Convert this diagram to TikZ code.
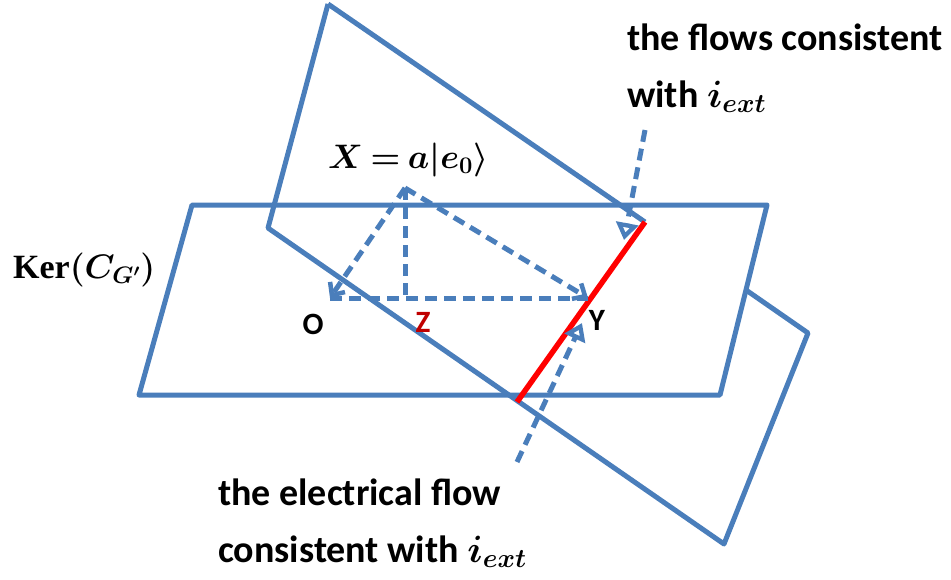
\RequirePackage{fix-cm}
\documentclass[tikz,border=0pt]{standalone}
\usepackage{amsmath}
\usepackage[no-math]{fontspec}
\setmainfont{Carlito}
\newfontfamily\kerfont{Liberation Serif}
\usetikzlibrary{arrows.meta}
\definecolor{pblue}{RGB}{74,126,187}
\definecolor{zred}{RGB}{192,0,0}
\tikzset{
  plane/.style={draw=pblue, line width=5pt, line join=round},
  dashln/.style={draw=pblue, line width=5pt, dash pattern=on 12pt off 7pt},
  barb/.style={-{Straight Barb[length=10pt,width=18pt,line width=4.5pt]}},
  bigtip/.style={-{Triangle[open,length=17pt,width=22pt,line width=4.5pt]}},
  lbl/.style={font=\fontsize{38}{44}\bfseries\selectfont, inner sep=0pt, anchor=base west},
  mlbl/.style={font=\fontsize{34}{40}\selectfont, inner sep=0pt, anchor=base west},
  pt/.style={font=\fontsize{31}{36}\bfseries\selectfont, inner sep=0pt}
}
\begin{document}
\begin{tikzpicture}[x=1pt,y=-1pt]
\useasboundingbox (0,0) rectangle (951,579);
% horizontal plane
\coordinate (H1) at (192,205);
\coordinate (H2) at (767,205);
\coordinate (H3) at (720,395);
\coordinate (H4) at (139,395);
% tilted plane
\coordinate (T1) at (328,4);
\coordinate (T2) at (808,333);
\coordinate (T3) at (724,544);
\coordinate (T4) at (268,228);
\coordinate (P) at (746,290);
% intersection line
\coordinate (R1) at (517,402);
\coordinate (R2) at (645,222);
% triangle
\coordinate (X) at (405,188);
\coordinate (O) at (330,298);
\coordinate (Z) at (405,298);
\coordinate (Y) at (588,298);
% arrows
\coordinate (A1) at (645,130);
\coordinate (A2) at (624,240);
\coordinate (B1) at (517,462);
\coordinate (B2) at (582,323);

\draw[plane] (H1) -- (H2) -- (H3) -- (H4) -- cycle;
\draw[plane] (T1) -- (R2);
\draw[plane] (P) -- (T2) -- (T3) -- (T4) -- (T1);
\draw[red, line width=5.5pt] (R1) -- (R2);

\draw[dashln] (O) -- (Y);
\draw[dashln] (X) -- (Z);
\draw[dashln, barb] (X) -- (O);
\draw[dashln, barb] (X) -- (Y);
\draw[dashln, bigtip] (A1) -- (A2);
\draw[dashln, bigtip] (B1) -- (B2);

\node[lbl] (t1) at (627,50) {the flows consistent};
\node[lbl] (t2) at (627,107) {with $\boldsymbol{i_{ext}}$};
\node[lbl] (b1) at (218,505) {the electrical flow};
\node[lbl] (b2) at (218,562) {consistent with $\boldsymbol{i_{ext}}$};
\node[mlbl] (xl) at (328,168) {$\boldsymbol{X}\mathbin{\boldsymbol{=}}\boldsymbol{a}\boldsymbol{\vert}\boldsymbol{e_0}\boldsymbol{\rangle}$};
\node[mlbl] (kl) at (13,278) {{\kerfont\bfseries Ker}$\boldsymbol{(}\boldsymbol{C_{G'}}\boldsymbol{)}$};
\node[pt] (ol) at (313,324) {O};
\node[pt, text=zred] (zl) at (423,322) {Z};
\node[pt] (yl) at (597,320) {Y};
\end{tikzpicture}
\end{document}
